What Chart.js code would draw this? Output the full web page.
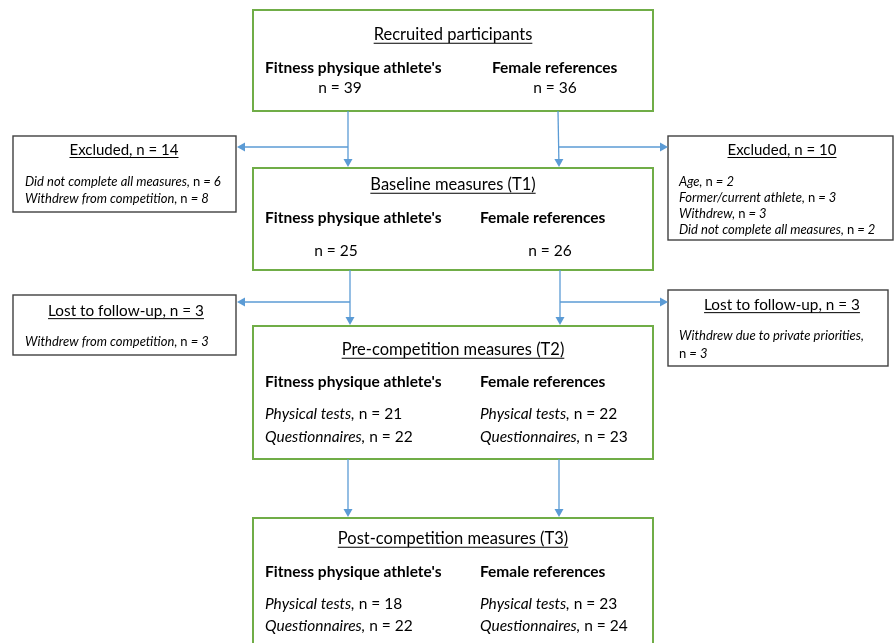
<!DOCTYPE html>
<html>
<head>
<meta charset="utf-8">
<script src="https://cdn.jsdelivr.net/npm/chart.js@4.4.1/dist/chart.umd.min.js"></script>
<style>
  html, body { margin: 0; padding: 0; background: #fff; }
  #flow { display: block; }
</style>
</head>
<body>
<canvas id="flow" width="894" height="643"></canvas>
<script>
// flow chart data
const stages = ['Recruited participants', 'Baseline measures (T1)', 'Pre-competition measures (T2)', 'Post-competition measures (T3)'];
const groups = ["Fitness physique athlete's", 'Female references'];
const athleteN = [39, 25];
const referenceN = [36, 26];
const athletePhysical = [21, 18];
const athleteQuestionnaires = [22, 22];
const referencePhysical = [22, 23];
const referenceQuestionnaires = [23, 24];

const excludedAthleteReasons = ['Did not complete all measures,', 'Withdrew from competition,'];
const excludedAthleteCounts = [6, 8];
const excludedReferenceReasons = ['Age,', 'Former/current athlete,', 'Withdrew,', 'Did not complete all measures,'];
const excludedReferenceCounts = [2, 3, 3, 2];
const lostAthleteReasons = ['Withdrew from competition,'];
const lostAthleteCounts = [3];
const lostReferenceReasons = ['Withdrew due to private priorities,'];
const lostReferenceCounts = [3];

const sum = arr => arr.reduce((a, b) => a + b, 0);

const GREEN = '#70ad47';
const BLUE = '#5b9bd5';
const GREY = '#404040';
const FONT = 'Lato, "Open Sans", sans-serif';

const flowPlugin = {
  id: 'flow',
  afterDraw(chart) {
    const ctx = chart.ctx;
    const xs = chart.scales.x, ys = chart.scales.y;
    const px = v => xs.getPixelForValue(v);
    const py = v => ys.getPixelForValue(v);

    const box = (x0, y0, x1, y1, color, lw) => {
      ctx.save();
      ctx.strokeStyle = color;
      ctx.lineWidth = lw;
      ctx.strokeRect(px(x0), py(y0), px(x1) - px(x0), py(y1) - py(y0));
      ctx.restore();
    };

    const arrow = (pts) => {
      ctx.save();
      ctx.strokeStyle = BLUE;
      ctx.fillStyle = BLUE;
      ctx.lineWidth = 1.3;
      const n = pts.length;
      const [ex, ey] = pts[n - 1];
      const [bx, by] = pts[n - 2];
      const ang = Math.atan2(py(ey) - py(by), px(ex) - px(bx));
      const hl = 8, hw = 4.5;
      ctx.beginPath();
      ctx.moveTo(px(pts[0][0]), py(pts[0][1]));
      for (let i = 1; i < n - 1; i++) ctx.lineTo(px(pts[i][0]), py(pts[i][1]));
      ctx.lineTo(px(ex) - Math.cos(ang) * hl, py(ey) - Math.sin(ang) * hl);
      ctx.stroke();
      ctx.beginPath();
      ctx.moveTo(px(ex), py(ey));
      ctx.lineTo(px(ex) - Math.cos(ang) * hl - Math.sin(ang) * hw, py(ey) - Math.sin(ang) * hl + Math.cos(ang) * hw);
      ctx.lineTo(px(ex) - Math.cos(ang) * hl + Math.sin(ang) * hw, py(ey) - Math.sin(ang) * hl - Math.cos(ang) * hw);
      ctx.closePath();
      ctx.fill();
      ctx.restore();
    };

    // runs: [[text, style]] style: 'b', 'i', 'r'
    const runs = (x, y, parts, size, align, underline) => {
      ctx.save();
      ctx.fillStyle = '#000';
      ctx.textBaseline = 'middle';
      const fontOf = s => (s === 'i' ? 'italic ' : '') + (s === 'b' ? 'bold ' : '') + size + 'px ' + FONT;
      let w = 0;
      parts.forEach(p => { ctx.font = fontOf(p[1]); w += ctx.measureText(p[0]).width; });
      let cx = px(x);
      if (align === 'center') cx -= w / 2;
      const start = cx;
      parts.forEach(p => {
        ctx.font = fontOf(p[1]);
        ctx.fillText(p[0], cx, py(y));
        cx += ctx.measureText(p[0]).width;
      });
      if (underline) {
        ctx.strokeStyle = '#000';
        ctx.lineWidth = 1;
        ctx.beginPath();
        ctx.moveTo(start, py(y) + size * 0.5);
        ctx.lineTo(start + w, py(y) + size * 0.5);
        ctx.stroke();
      }
      ctx.restore();
    };

    const BODY = 15.5, SIDE = 13;

    // main boxes
    const mainX0 = 253, mainX1 = 653;
    const mainY = [[10, 111], [168, 270], [326, 459], [518, 660]];
    mainY.forEach(([a, b]) => box(mainX0, a, mainX1, b, GREEN, 2));

    // side boxes
    box(13, 136, 236, 212, GREY, 1.4);
    box(668, 136, 893, 240, GREY, 1.4);
    box(13, 295, 236, 355, GREY, 1.4);
    box(668, 290, 888, 366, GREY, 1.4);

    // arrows
    arrow([[348, 111], [348, 167]]);
    arrow([[558, 111], [559, 167]]);
    arrow([[348, 147], [237, 147]]);
    arrow([[559, 147], [668, 147]]);
    arrow([[350, 270], [350, 325]]);
    arrow([[560, 270], [560, 325]]);
    arrow([[350, 302], [237, 302]]);
    arrow([[560, 302], [668, 302]]);
    arrow([[348, 459], [348, 517]]);
    arrow([[559, 459], [559, 517]]);

    // titles
    const titleY = [35, 185, 350, 539];
    stages.forEach((s, i) => runs(453, titleY[i], [[s, 'r']], 16.5, 'center', true));

    // box 1
    runs(265, 68, [[groups[0], 'b']], BODY, 'left');
    runs(492, 68, [[groups[1], 'b']], BODY, 'left');
    runs(340, 88, [['n = ' + athleteN[0], 'r']], BODY, 'center');
    runs(555, 88, [['n = ' + referenceN[0], 'r']], BODY, 'center');

    // box 2
    runs(265, 218, [[groups[0], 'b']], BODY, 'left');
    runs(480, 218, [[groups[1], 'b']], BODY, 'left');
    runs(336, 251, [['n = ' + athleteN[1], 'r']], BODY, 'center');
    runs(550, 251, [['n = ' + referenceN[1], 'r']], BODY, 'center');

    // boxes 3 and 4
    [[382, 414, 437], [572, 604, 626]].forEach(([hy, py1, qy], i) => {
      runs(265, hy, [[groups[0], 'b']], BODY, 'left');
      runs(480, hy, [[groups[1], 'b']], BODY, 'left');
      runs(265, py1, [['Physical tests,', 'i'], [' n = ' + athletePhysical[i], 'r']], BODY, 'left');
      runs(265, qy, [['Questionnaires,', 'i'], [' n = ' + athleteQuestionnaires[i], 'r']], BODY, 'left');
      runs(480, py1, [['Physical tests,', 'i'], [' n = ' + referencePhysical[i], 'r']], BODY, 'left');
      runs(480, qy, [['Questionnaires,', 'i'], [' n = ' + referenceQuestionnaires[i], 'r']], BODY, 'left');
    });

    // side box texts
    runs(124, 150, [['Excluded, n = ' + sum(excludedAthleteCounts), 'r']], 15, 'center', true);
    excludedAthleteReasons.forEach((r, i) =>
      runs(25, 182 + i * 17, [[r + ' ', 'i'], ['n', 'r'], [' = ' + excludedAthleteCounts[i], 'i']], SIDE, 'left'));

    runs(782, 150, [['Excluded, n = ' + sum(excludedReferenceCounts), 'r']], 15, 'center', true);
    excludedReferenceReasons.forEach((r, i) =>
      runs(679, 182 + i * 16, [[r + ' ', 'i'], ['n', 'r'], [' = ' + excludedReferenceCounts[i], 'i']], SIDE, 'left'));

    runs(126, 311, [['Lost to follow-up, n = ' + sum(lostAthleteCounts), 'r']], 15.3, 'center', true);
    lostAthleteReasons.forEach((r, i) =>
      runs(25, 342 + i * 17, [[r + ' ', 'i'], ['n', 'r'], [' = ' + lostAthleteCounts[i], 'i']], SIDE, 'left'));

    runs(782, 305, [['Lost to follow-up, n = ' + sum(lostReferenceCounts), 'r']], 15.3, 'center', true);
    lostReferenceReasons.forEach((r, i) => {
      runs(679, 336, [[r, 'i']], SIDE, 'left');
      runs(679, 354, [['n', 'r'], [' = ' + lostReferenceCounts[i], 'i']], SIDE, 'left');
    });
  }
};

new Chart(document.getElementById('flow'), {
  type: 'scatter',
  data: { datasets: [{ data: [], showLine: false }] },
  options: {
    responsive: false,
    animation: false,
    devicePixelRatio: 1,
    layout: { padding: 0 },
    scales: {
      x: { type: 'linear', min: 0, max: 894, display: false },
      y: { type: 'linear', min: 0, max: 643, reverse: true, display: false }
    },
    plugins: { legend: { display: false }, tooltip: { enabled: false } }
  },
  plugins: [flowPlugin]
});
</script>
</body>
</html>
